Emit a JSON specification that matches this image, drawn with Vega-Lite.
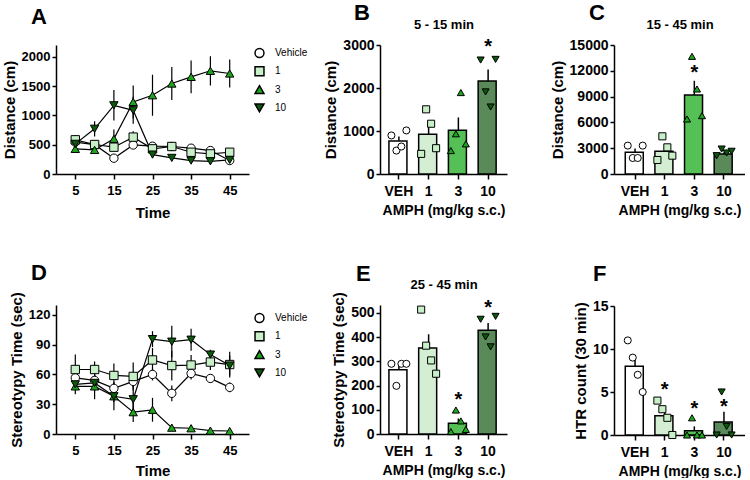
{
 "$schema": "https://vega.github.io/schema/vega-lite/v6.json",
 "padding": {"left": 2, "top": 2, "right": 0, "bottom": 0},
 "config": {
   "font": "Liberation Sans",
   "view": {"stroke": null},
   "axis": {"grid": false, "domainColor": "black", "domainWidth": 1.5, "tickColor": "black", "tickWidth": 1.5, "tickSize": 4, "labelColor": "black", "labelFontWeight": "bold", "labelFontSize": 14, "labelPadding": 2, "titleColor": "black", "titleFontWeight": "bold", "titleFontSize": 15, "titlePadding": 4},
   "axisX": {"tickSize": 5, "labelPadding": 5},
   "title": {"fontSize": 22, "fontWeight": "bold", "color": "black", "anchor": "start", "baseline": "alphabetic", "frame": "group"},
   "legend": {"labelFontSize": 10, "labelColor": "black"}
 },
 "datasets": {
   "distTime": [
     {"grp": "Vehicle", "t": 5, "m": 543, "se": 60}, {"grp": "Vehicle", "t": 10, "m": 500, "se": 40}, {"grp": "Vehicle", "t": 15, "m": 270, "se": 40}, {"grp": "Vehicle", "t": 20, "m": 495, "se": 60}, {"grp": "Vehicle", "t": 25, "m": 474, "se": 40}, {"grp": "Vehicle", "t": 30, "m": 469, "se": 50}, {"grp": "Vehicle", "t": 35, "m": 440, "se": 50}, {"grp": "Vehicle", "t": 40, "m": 400, "se": 30}, {"grp": "Vehicle", "t": 45, "m": 230, "se": 30},
     {"grp": "1", "t": 5, "m": 583, "se": 80}, {"grp": "1", "t": 10, "m": 503, "se": 60}, {"grp": "1", "t": 15, "m": 457, "se": 60}, {"grp": "1", "t": 20, "m": 629, "se": 100}, {"grp": "1", "t": 25, "m": 429, "se": 40}, {"grp": "1", "t": 30, "m": 469, "se": 60}, {"grp": "1", "t": 35, "m": 371, "se": 50}, {"grp": "1", "t": 40, "m": 343, "se": 40}, {"grp": "1", "t": 45, "m": 371, "se": 40},
     {"grp": "3", "t": 5, "m": 429, "se": 60}, {"grp": "3", "t": 10, "m": 411, "se": 60}, {"grp": "3", "t": 15, "m": 600, "se": 160}, {"grp": "3", "t": 20, "m": 1229, "se": 280}, {"grp": "3", "t": 25, "m": 1343, "se": 350}, {"grp": "3", "t": 30, "m": 1543, "se": 280}, {"grp": "3", "t": 35, "m": 1657, "se": 280}, {"grp": "3", "t": 40, "m": 1760, "se": 250}, {"grp": "3", "t": 45, "m": 1714, "se": 240},
     {"grp": "10", "t": 5, "m": 514, "se": 120}, {"grp": "10", "t": 10, "m": 771, "se": 130}, {"grp": "10", "t": 15, "m": 1171, "se": 260}, {"grp": "10", "t": 20, "m": 1086, "se": 230}, {"grp": "10", "t": 25, "m": 331, "se": 40}, {"grp": "10", "t": 30, "m": 274, "se": 30}, {"grp": "10", "t": 35, "m": 229, "se": 30}, {"grp": "10", "t": 40, "m": 217, "se": 30}, {"grp": "10", "t": 45, "m": 240, "se": 30}
   ],
   "stereoTime": [
     {"grp": "Vehicle", "t": 5, "m": 56.6, "se": 5}, {"grp": "Vehicle", "t": 10, "m": 54, "se": 5}, {"grp": "Vehicle", "t": 15, "m": 46, "se": 6}, {"grp": "Vehicle", "t": 20, "m": 53, "se": 6}, {"grp": "Vehicle", "t": 25, "m": 60, "se": 6}, {"grp": "Vehicle", "t": 30, "m": 41, "se": 8}, {"grp": "Vehicle", "t": 35, "m": 61, "se": 6}, {"grp": "Vehicle", "t": 40, "m": 56, "se": 4}, {"grp": "Vehicle", "t": 45, "m": 47, "se": 5},
     {"grp": "1", "t": 5, "m": 65, "se": 15}, {"grp": "1", "t": 10, "m": 65, "se": 8}, {"grp": "1", "t": 15, "m": 59, "se": 12}, {"grp": "1", "t": 20, "m": 58, "se": 14}, {"grp": "1", "t": 25, "m": 74.6, "se": 12}, {"grp": "1", "t": 30, "m": 69, "se": 15}, {"grp": "1", "t": 35, "m": 69.5, "se": 10}, {"grp": "1", "t": 40, "m": 72.5, "se": 8}, {"grp": "1", "t": 45, "m": 70, "se": 13},
     {"grp": "3", "t": 5, "m": 48, "se": 8}, {"grp": "3", "t": 10, "m": 48, "se": 13}, {"grp": "3", "t": 15, "m": 38, "se": 6}, {"grp": "3", "t": 20, "m": 22, "se": 10}, {"grp": "3", "t": 25, "m": 24.4, "se": 12}, {"grp": "3", "t": 30, "m": 6.4, "se": 3}, {"grp": "3", "t": 35, "m": 5.8, "se": 3}, {"grp": "3", "t": 40, "m": 3.4, "se": 2}, {"grp": "3", "t": 45, "m": 3, "se": 2},
     {"grp": "10", "t": 5, "m": 50, "se": 5}, {"grp": "10", "t": 10, "m": 51.5, "se": 8}, {"grp": "10", "t": 15, "m": 38, "se": 14}, {"grp": "10", "t": 20, "m": 35, "se": 14}, {"grp": "10", "t": 25, "m": 95.6, "se": 8}, {"grp": "10", "t": 30, "m": 93, "se": 16}, {"grp": "10", "t": 35, "m": 95, "se": 11}, {"grp": "10", "t": 40, "m": 80, "se": 5}, {"grp": "10", "t": 45, "m": 69, "se": 10}
   ],
   "barB": [{"grp": "VEH", "m": 770, "se": 105}, {"grp": "1", "m": 925, "se": 245}, {"grp": "3", "m": 1015, "se": 300}, {"grp": "10", "m": 2160, "se": 270, "sig": 2960}],
   "ptsB": [
     {"grp": "VEH", "id": 1, "v": 896}, {"grp": "VEH", "id": 2, "v": 545}, {"grp": "VEH", "id": 3, "v": 639}, {"grp": "VEH", "id": 4, "v": 1013},
     {"grp": "1", "id": 1, "v": 468}, {"grp": "1", "id": 2, "v": 1504}, {"grp": "1", "id": 3, "v": 1169}, {"grp": "1", "id": 4, "v": 600},
     {"grp": "3", "id": 1, "v": 545}, {"grp": "3", "id": 2, "v": 935}, {"grp": "3", "id": 3, "v": 1894}, {"grp": "3", "id": 4, "v": 701},
     {"grp": "10", "id": 1, "v": 2650}, {"grp": "10", "id": 2, "v": 1909}, {"grp": "10", "id": 3, "v": 1558}, {"grp": "10", "id": 4, "v": 2665}
   ],
   "barC": [{"grp": "VEH", "m": 2520, "se": 450}, {"grp": "1", "m": 2640, "se": 600}, {"grp": "3", "m": 9190, "se": 1650, "sig": 11800}, {"grp": "10", "m": 2330, "se": 200}],
   "ptsC": [
     {"grp": "VEH", "id": 1, "v": 3300}, {"grp": "VEH", "id": 2, "v": 1860}, {"grp": "VEH", "id": 3, "v": 1860}, {"grp": "VEH", "id": 4, "v": 3300},
     {"grp": "1", "id": 1, "v": 1628}, {"grp": "1", "id": 2, "v": 4380}, {"grp": "1", "id": 3, "v": 3100}, {"grp": "1", "id": 4, "v": 2132},
     {"grp": "3", "id": 1, "v": 6395}, {"grp": "3", "id": 2, "v": 13682}, {"grp": "3", "id": 3, "v": 9884}, {"grp": "3", "id": 4, "v": 6783},
     {"grp": "10", "id": 1, "v": 2130}, {"grp": "10", "id": 2, "v": 2900}, {"grp": "10", "id": 3, "v": 2440}, {"grp": "10", "id": 4, "v": 2640}
   ],
   "barE": [{"grp": "VEH", "m": 265, "se": 22}, {"grp": "1", "m": 355, "se": 57}, {"grp": "3", "m": 44, "se": 20, "sig": 140}, {"grp": "10", "m": 429, "se": 30, "sig": 522}],
   "ptsE": [
     {"grp": "VEH", "id": 1, "v": 290}, {"grp": "VEH", "id": 2, "v": 199}, {"grp": "VEH", "id": 3, "v": 290}, {"grp": "VEH", "id": 4, "v": 290},
     {"grp": "1", "id": 1, "v": 514}, {"grp": "1", "id": 2, "v": 365}, {"grp": "1", "id": 3, "v": 304}, {"grp": "1", "id": 4, "v": 249},
     {"grp": "3", "id": 1, "v": 10}, {"grp": "3", "id": 2, "v": 99}, {"grp": "3", "id": 3, "v": 54}, {"grp": "3", "id": 4, "v": 19},
     {"grp": "10", "id": 1, "v": 474}, {"grp": "10", "id": 2, "v": 401}, {"grp": "10", "id": 3, "v": 360}, {"grp": "10", "id": 4, "v": 486}
   ],
   "barF": [{"grp": "VEH", "m": 8, "se": 1.3}, {"grp": "1", "m": 2.25, "se": 0.85, "sig": 5.2}, {"grp": "3", "m": 0.5, "se": 0.5, "sig": 3.0}, {"grp": "10", "m": 1.5, "se": 1.19, "sig": 3.2}],
   "ptsF": [
     {"grp": "VEH", "id": 1, "v": 11}, {"grp": "VEH", "id": 2, "v": 9}, {"grp": "VEH", "id": 3, "v": 7}, {"grp": "VEH", "id": 4, "v": 5},
     {"grp": "1", "id": 1, "v": 4}, {"grp": "1", "id": 2, "v": 3}, {"grp": "1", "id": 3, "v": 2}, {"grp": "1", "id": 4, "v": 0},
     {"grp": "3", "id": 1, "v": 0}, {"grp": "3", "id": 2, "v": 2}, {"grp": "3", "id": 3, "v": 0}, {"grp": "3", "id": 4, "v": 0},
     {"grp": "10", "id": 1, "v": 0}, {"grp": "10", "id": 2, "v": 5}, {"grp": "10", "id": 3, "v": 1}, {"grp": "10", "id": 4, "v": 0}
   ]
 },
 "spacing": 15,
 "resolve": {"scale": {"fill": "independent", "shape": "independent", "color": "independent"}, "legend": {"fill": "independent", "shape": "independent", "color": "independent"}},
 "hconcat": [
  {
   "spacing": 41,
   "resolve": {"scale": {"fill": "independent", "shape": "independent", "color": "independent"}, "legend": {"fill": "independent", "shape": "independent", "color": "independent"}},
   "vconcat": [
    {
     "width": 193, "height": 129,
     "title": {"text": "A", "dx": -25, "offset": 16},
     "data": {"name": "distTime"},
     "encoding": {
       "x": {"field": "t", "type": "quantitative", "scale": {"domain": [0, 50], "nice": false}, "axis": {"values": [5, 15, 25, 35, 45], "title": "Time", "labelFontSize": 13, "titlePadding": 8}},
       "y": {"field": "m", "type": "quantitative", "scale": {"domain": [0, 2200], "nice": false}, "axis": {"values": [0, 500, 1000, 1500, 2000], "format": "d", "title": "Distance (cm)", "labelFontSize": 13}}
     },
     "layer": [
       {"mark": {"type": "line", "color": "black", "strokeWidth": 1.2}, "encoding": {"detail": {"field": "grp"}}},
       {"mark": {"type": "errorbar", "color": "black", "thickness": 1.2}, "encoding": {"yError": {"field": "se"}, "detail": {"field": "grp"}}},
       {"mark": {"type": "point", "filled": true, "stroke": "black", "strokeWidth": 1, "size": 70, "opacity": 1},
        "encoding": {
          "shape": {"field": "grp", "type": "nominal", "scale": {"domain": ["Vehicle", "1", "3", "10"], "range": ["circle", "square", "triangle-up", "triangle-down"]}, "legend": {"title": null, "orient": "none", "legendX": 198, "legendY": 1, "symbolSize": 80, "clipHeight": 14, "rowPadding": 4.3, "labelOffset": 10, "encode": {"symbols": {"update": {"stroke": {"value": "black"}, "strokeWidth": {"value": 1}}}}}},
          "fill": {"field": "grp", "type": "nominal", "scale": {"domain": ["Vehicle", "1", "3", "10"], "range": ["#ffffff", "#c8f0c8", "#1ea51e", "#0a5a0a"]}, "legend": {"title": null, "orient": "none", "legendX": 198, "legendY": 1, "symbolSize": 80, "clipHeight": 14, "rowPadding": 4.3, "labelOffset": 10, "encode": {"symbols": {"update": {"stroke": {"value": "black"}, "strokeWidth": {"value": 1}}}}}}
        }}
     ]
    },
    {
     "width": 193, "height": 129,
     "title": {"text": "D", "dx": -25, "offset": 7},
     "data": {"name": "stereoTime"},
     "encoding": {
       "x": {"field": "t", "type": "quantitative", "scale": {"domain": [0, 50], "nice": false}, "axis": {"values": [5, 15, 25, 35, 45], "title": "Time", "labelFontSize": 13, "titlePadding": 6}},
       "y": {"field": "m", "type": "quantitative", "scale": {"domain": [0, 130], "nice": false}, "axis": {"values": [0, 30, 60, 90, 120], "format": "d", "title": "Stereotypy Time (sec)", "labelFontSize": 13}}
     },
     "layer": [
       {"mark": {"type": "line", "color": "black", "strokeWidth": 1.2}, "encoding": {"detail": {"field": "grp"}}},
       {"mark": {"type": "errorbar", "color": "black", "thickness": 1.2}, "encoding": {"yError": {"field": "se"}, "detail": {"field": "grp"}}},
       {"mark": {"type": "point", "filled": true, "stroke": "black", "strokeWidth": 1, "size": 70, "opacity": 1},
        "encoding": {
          "shape": {"field": "grp", "type": "nominal", "scale": {"domain": ["Vehicle", "1", "3", "10"], "range": ["circle", "square", "triangle-up", "triangle-down"]}, "legend": {"title": null, "orient": "none", "legendX": 198, "legendY": 6, "symbolSize": 80, "clipHeight": 14, "rowPadding": 4.3, "labelOffset": 10, "encode": {"symbols": {"update": {"stroke": {"value": "black"}, "strokeWidth": {"value": 1}}}}}},
          "fill": {"field": "grp", "type": "nominal", "scale": {"domain": ["Vehicle", "1", "3", "10"], "range": ["#ffffff", "#c8f0c8", "#1ea51e", "#0a5a0a"]}, "legend": {"title": null, "orient": "none", "legendX": 198, "legendY": 6, "symbolSize": 80, "clipHeight": 14, "rowPadding": 4.3, "labelOffset": 10, "encode": {"symbols": {"update": {"stroke": {"value": "black"}, "strokeWidth": {"value": 1}}}}}}
        }}
     ]
    }
   ]
  },
  {
   "spacing": 43,
   "resolve": {"scale": {"fill": "independent", "shape": "independent", "color": "independent"}, "legend": {"fill": "independent", "shape": "independent", "color": "independent"}},
   "hconcat": [
    {
     "spacing": 46,
     "resolve": {"scale": {"fill": "independent", "shape": "independent", "color": "independent"}, "legend": {"fill": "independent", "shape": "independent", "color": "independent"}},
     "vconcat": [
      {
       "width": 127, "height": 129,
       "title": {"text": "B", "dx": -26, "offset": -7},
       "resolve": {"axis": {"x": "independent"}},
       "layer": [
        {"data": {"name": "barB"}, "mark": {"type": "errorbar", "color": "black", "thickness": 1.5},
         "encoding": {"x": {"field": "grp", "type": "nominal", "sort": ["VEH", "1", "3", "10"], "scale": {"paddingInner": 0.33, "paddingOuter": 0.3}, "axis": null},
                      "y": {"field": "m", "type": "quantitative", "scale": {"domain": [0, 3000], "nice": false}, "axis": {"values": [0, 1000, 2000, 3000], "format": "d", "title": "Distance (cm)"}}, "yError": {"field": "se"}}},
        {"data": {"name": "barB"}, "mark": {"type": "bar", "stroke": "black", "strokeWidth": 1.5},
         "encoding": {"x": {"field": "grp", "type": "nominal", "sort": ["VEH", "1", "3", "10"], "scale": {"paddingInner": 0.33, "paddingOuter": 0.3}, "axis": {"orient": "bottom", "title": "AMPH (mg/kg s.c.)", "labelAngle": 0, "titleFontSize": 14, "titlePadding": 5}},
                      "y": {"field": "m", "type": "quantitative", "scale": {"domain": [0, 3000], "nice": false}, "axis": {"values": [0, 1000, 2000, 3000], "format": "d", "title": "Distance (cm)"}},
                      "color": {"field": "grp", "type": "nominal", "scale": {"domain": ["VEH", "1", "3", "10"], "range": ["#ffffff", "#d4eed4", "#55c055", "#5a8a5a"]}, "legend": null}}},
        {"data": {"name": "ptsB"}, "mark": {"type": "point", "filled": true, "stroke": "black", "strokeWidth": 1, "size": 50, "opacity": 1},
         "encoding": {"x": {"field": "grp", "type": "nominal", "sort": ["VEH", "1", "3", "10"], "scale": {"paddingInner": 0.33, "paddingOuter": 0.3}, "axis": null},
                      "xOffset": {"field": "id", "type": "nominal", "scale": {"paddingOuter": 0.5}},
                      "y": {"field": "v", "type": "quantitative", "axis": {"values": [0, 1000, 2000, 3000], "format": "d", "title": "Distance (cm)"}},
                      "shape": {"field": "grp", "type": "nominal", "scale": {"domain": ["VEH", "1", "3", "10"], "range": ["circle", "square", "triangle-up", "triangle-down"]}, "legend": null},
                      "fill": {"field": "grp", "type": "nominal", "scale": {"domain": ["VEH", "1", "3", "10"], "range": ["#ffffff", "#c8f0c8", "#1ea51e", "#0a5a0a"]}, "legend": null}}},
        {"data": {"name": "barB"}, "transform": [{"filter": "isValid(datum.sig)"}], "mark": {"type": "text", "text": "*", "fontSize": 20, "fontWeight": "bold", "baseline": "middle", "color": "black"},
         "encoding": {"x": {"field": "grp", "type": "nominal", "sort": ["VEH", "1", "3", "10"], "scale": {"paddingInner": 0.33, "paddingOuter": 0.3}, "axis": {"orient": "top", "title": "5 - 15 min", "labels": false, "ticks": false, "domain": false, "tickSize": 4, "labelPadding": 2, "titleFontSize": 13, "titlePadding": 14}},
                      "y": {"field": "sig", "type": "quantitative", "axis": {"values": [0, 1000, 2000, 3000], "format": "d", "title": "Distance (cm)"}}}}
       ]
      },
      {
       "width": 127, "height": 129,
       "title": {"text": "E", "dx": -24, "offset": -8},
       "resolve": {"axis": {"x": "independent"}},
       "layer": [
        {"data": {"name": "barE"}, "mark": {"type": "errorbar", "color": "black", "thickness": 1.5},
         "encoding": {"x": {"field": "grp", "type": "nominal", "sort": ["VEH", "1", "3", "10"], "scale": {"paddingInner": 0.33, "paddingOuter": 0.3}, "axis": null},
                      "y": {"field": "m", "type": "quantitative", "scale": {"domain": [0, 533], "nice": false}, "axis": {"values": [0, 100, 200, 300, 400, 500], "format": "d", "title": "Stereotypy Time (sec)"}}, "yError": {"field": "se"}}},
        {"data": {"name": "barE"}, "mark": {"type": "bar", "stroke": "black", "strokeWidth": 1.5},
         "encoding": {"x": {"field": "grp", "type": "nominal", "sort": ["VEH", "1", "3", "10"], "scale": {"paddingInner": 0.33, "paddingOuter": 0.3}, "axis": {"orient": "bottom", "title": "AMPH (mg/kg s.c.)", "labelAngle": 0, "titleFontSize": 14, "titlePadding": 5}},
                      "y": {"field": "m", "type": "quantitative", "scale": {"domain": [0, 533], "nice": false}, "axis": {"values": [0, 100, 200, 300, 400, 500], "format": "d", "title": "Stereotypy Time (sec)"}},
                      "color": {"field": "grp", "type": "nominal", "scale": {"domain": ["VEH", "1", "3", "10"], "range": ["#ffffff", "#d4eed4", "#55c055", "#5a8a5a"]}, "legend": null}}},
        {"data": {"name": "ptsE"}, "mark": {"type": "point", "filled": true, "stroke": "black", "strokeWidth": 1, "size": 50, "opacity": 1},
         "encoding": {"x": {"field": "grp", "type": "nominal", "sort": ["VEH", "1", "3", "10"], "scale": {"paddingInner": 0.33, "paddingOuter": 0.3}, "axis": null},
                      "xOffset": {"field": "id", "type": "nominal", "scale": {"paddingOuter": 0.5}},
                      "y": {"field": "v", "type": "quantitative", "axis": {"values": [0, 100, 200, 300, 400, 500], "format": "d", "title": "Stereotypy Time (sec)"}},
                      "shape": {"field": "grp", "type": "nominal", "scale": {"domain": ["VEH", "1", "3", "10"], "range": ["circle", "square", "triangle-up", "triangle-down"]}, "legend": null},
                      "fill": {"field": "grp", "type": "nominal", "scale": {"domain": ["VEH", "1", "3", "10"], "range": ["#ffffff", "#c8f0c8", "#1ea51e", "#0a5a0a"]}, "legend": null}}},
        {"data": {"name": "barE"}, "transform": [{"filter": "isValid(datum.sig)"}], "mark": {"type": "text", "text": "*", "fontSize": 20, "fontWeight": "bold", "baseline": "middle", "color": "black"},
         "encoding": {"x": {"field": "grp", "type": "nominal", "sort": ["VEH", "1", "3", "10"], "scale": {"paddingInner": 0.33, "paddingOuter": 0.3}, "axis": {"orient": "top", "title": "25 - 45 min", "labels": false, "ticks": false, "domain": false, "tickSize": 4, "labelPadding": 2, "titleFontSize": 13, "titlePadding": 14}},
                      "y": {"field": "sig", "type": "quantitative", "axis": {"values": [0, 100, 200, 300, 400, 500], "format": "d", "title": "Stereotypy Time (sec)"}}}}
       ]
      }
     ]
    },
    {
     "spacing": 46,
     "resolve": {"scale": {"fill": "independent", "shape": "independent", "color": "independent"}, "legend": {"fill": "independent", "shape": "independent", "color": "independent"}},
     "vconcat": [
      {
       "width": 131, "height": 129,
       "title": {"text": "C", "dx": -25, "offset": -7},
       "resolve": {"axis": {"x": "independent"}},
       "layer": [
        {"data": {"name": "barC"}, "mark": {"type": "errorbar", "color": "black", "thickness": 1.5},
         "encoding": {"x": {"field": "grp", "type": "nominal", "sort": ["VEH", "1", "3", "10"], "scale": {"paddingInner": 0.34, "paddingOuter": 0.38}, "axis": null},
                      "y": {"field": "m", "type": "quantitative", "scale": {"domain": [0, 15000], "nice": false}, "axis": {"values": [0, 3000, 6000, 9000, 12000, 15000], "format": "d", "title": "Distance (cm)"}}, "yError": {"field": "se"}}},
        {"data": {"name": "barC"}, "mark": {"type": "bar", "stroke": "black", "strokeWidth": 1.5},
         "encoding": {"x": {"field": "grp", "type": "nominal", "sort": ["VEH", "1", "3", "10"], "scale": {"paddingInner": 0.34, "paddingOuter": 0.38}, "axis": {"orient": "bottom", "title": "AMPH (mg/kg s.c.)", "labelAngle": 0, "titleFontSize": 14, "titlePadding": 5}},
                      "y": {"field": "m", "type": "quantitative", "scale": {"domain": [0, 15000], "nice": false}, "axis": {"values": [0, 3000, 6000, 9000, 12000, 15000], "format": "d", "title": "Distance (cm)"}},
                      "color": {"field": "grp", "type": "nominal", "scale": {"domain": ["VEH", "1", "3", "10"], "range": ["#ffffff", "#d4eed4", "#55c055", "#5a8a5a"]}, "legend": null}}},
        {"data": {"name": "ptsC"}, "mark": {"type": "point", "filled": true, "stroke": "black", "strokeWidth": 1, "size": 50, "opacity": 1},
         "encoding": {"x": {"field": "grp", "type": "nominal", "sort": ["VEH", "1", "3", "10"], "scale": {"paddingInner": 0.34, "paddingOuter": 0.38}, "axis": null},
                      "xOffset": {"field": "id", "type": "nominal", "scale": {"paddingOuter": 0.5}},
                      "y": {"field": "v", "type": "quantitative", "axis": {"values": [0, 3000, 6000, 9000, 12000, 15000], "format": "d", "title": "Distance (cm)"}},
                      "shape": {"field": "grp", "type": "nominal", "scale": {"domain": ["VEH", "1", "3", "10"], "range": ["circle", "square", "triangle-up", "triangle-down"]}, "legend": null},
                      "fill": {"field": "grp", "type": "nominal", "scale": {"domain": ["VEH", "1", "3", "10"], "range": ["#ffffff", "#c8f0c8", "#1ea51e", "#0a5a0a"]}, "legend": null}}},
        {"data": {"name": "barC"}, "transform": [{"filter": "isValid(datum.sig)"}], "mark": {"type": "text", "text": "*", "fontSize": 20, "fontWeight": "bold", "baseline": "middle", "color": "black"},
         "encoding": {"x": {"field": "grp", "type": "nominal", "sort": ["VEH", "1", "3", "10"], "scale": {"paddingInner": 0.34, "paddingOuter": 0.38}, "axis": {"orient": "top", "title": "15 - 45 min", "labels": false, "ticks": false, "domain": false, "tickSize": 4, "labelPadding": 2, "titleFontSize": 13, "titlePadding": 14}},
                      "y": {"field": "sig", "type": "quantitative", "axis": {"values": [0, 3000, 6000, 9000, 12000, 15000], "format": "d", "title": "Distance (cm)"}}}}
       ]
      },
      {
       "width": 131, "height": 129,
       "title": {"text": "F", "dx": -21, "offset": 13},
       "layer": [
        {"data": {"name": "barF"}, "mark": {"type": "errorbar", "color": "black", "thickness": 1.5},
         "encoding": {"x": {"field": "grp", "type": "nominal", "sort": ["VEH", "1", "3", "10"], "scale": {"paddingInner": 0.34, "paddingOuter": 0.38}, "axis": {"title": "AMPH (mg/kg s.c.)", "labelAngle": 0, "titleFontSize": 14, "titlePadding": 5}},
                      "y": {"field": "m", "type": "quantitative", "scale": {"domain": [0, 15], "nice": false}, "axis": {"values": [0, 5, 10, 15], "format": "d", "title": "HTR count (30 min)"}}, "yError": {"field": "se"}}},
        {"data": {"name": "barF"}, "mark": {"type": "bar", "stroke": "black", "strokeWidth": 1.5},
         "encoding": {"x": {"field": "grp", "type": "nominal", "sort": ["VEH", "1", "3", "10"], "scale": {"paddingInner": 0.34, "paddingOuter": 0.38}, "axis": {"title": "AMPH (mg/kg s.c.)", "labelAngle": 0, "titleFontSize": 14, "titlePadding": 5}},
                      "y": {"field": "m", "type": "quantitative", "scale": {"domain": [0, 15], "nice": false}, "axis": {"values": [0, 5, 10, 15], "format": "d", "title": "HTR count (30 min)"}},
                      "color": {"field": "grp", "type": "nominal", "scale": {"domain": ["VEH", "1", "3", "10"], "range": ["#ffffff", "#d4eed4", "#55c055", "#5a8a5a"]}, "legend": null}}},
        {"data": {"name": "ptsF"}, "mark": {"type": "point", "filled": true, "stroke": "black", "strokeWidth": 1, "size": 50, "opacity": 1},
         "encoding": {"x": {"field": "grp", "type": "nominal", "sort": ["VEH", "1", "3", "10"], "scale": {"paddingInner": 0.34, "paddingOuter": 0.38}, "axis": {"title": "AMPH (mg/kg s.c.)", "labelAngle": 0, "titleFontSize": 14, "titlePadding": 5}},
                      "xOffset": {"field": "id", "type": "nominal", "scale": {"paddingOuter": 0.5}},
                      "y": {"field": "v", "type": "quantitative", "axis": {"values": [0, 5, 10, 15], "format": "d", "title": "HTR count (30 min)"}},
                      "shape": {"field": "grp", "type": "nominal", "scale": {"domain": ["VEH", "1", "3", "10"], "range": ["circle", "square", "triangle-up", "triangle-down"]}, "legend": null},
                      "fill": {"field": "grp", "type": "nominal", "scale": {"domain": ["VEH", "1", "3", "10"], "range": ["#ffffff", "#c8f0c8", "#1ea51e", "#0a5a0a"]}, "legend": null}}},
        {"data": {"name": "barF"}, "transform": [{"filter": "isValid(datum.sig)"}], "mark": {"type": "text", "text": "*", "fontSize": 20, "fontWeight": "bold", "baseline": "middle", "color": "black"},
         "encoding": {"x": {"field": "grp", "type": "nominal", "sort": ["VEH", "1", "3", "10"], "scale": {"paddingInner": 0.34, "paddingOuter": 0.38}, "axis": {"title": "AMPH (mg/kg s.c.)", "labelAngle": 0, "titleFontSize": 14, "titlePadding": 5}},
                      "y": {"field": "sig", "type": "quantitative", "axis": {"values": [0, 5, 10, 15], "format": "d", "title": "HTR count (30 min)"}}}}
       ]
      }
     ]
    }
   ]
  }
 ]
}
